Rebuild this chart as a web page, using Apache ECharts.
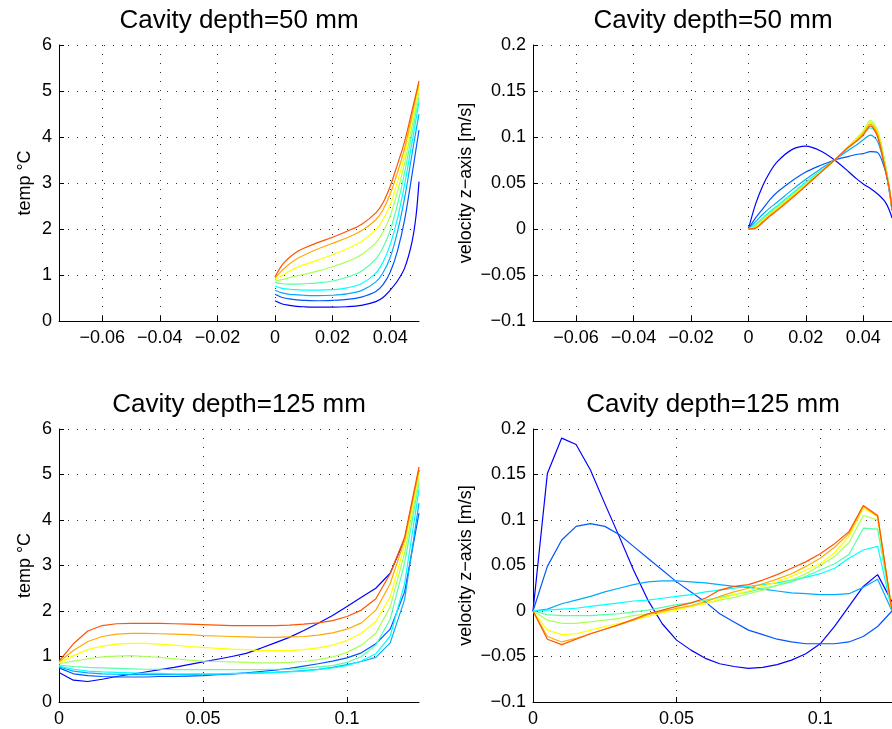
<!DOCTYPE html>
<html><head><meta charset="utf-8">
<script src="https://cdn.jsdelivr.net/npm/echarts@6/dist/echarts.min.js"></script>
<style>html,body{margin:0;padding:0;background:#fff}#c{width:892px;height:729px}</style>
</head><body><div id="c"></div>
<script>
// jet(9) colour order: blue -> red
const lineColors = ['#0000FF','#0055FF','#00AAFF','#00FFFF','#55FFAA','#AAFF55','#FFFF00','#FFAA00','#FF5500'];
const titles = ['Cavity depth=50 mm','Cavity depth=50 mm','Cavity depth=125 mm','Cavity depth=125 mm'];
const tempName = 'temp \u00B0C';
const velName = 'velocity z\u2212axis [m/s]';
const xTicks50 = [-0.06,-0.04,-0.02,0,0.02,0.04];
const xTicks125 = [0,0.05,0.1];

// x positions (m)
const x50 = [0,0.0025,0.005,0.0075,0.01,0.015,0.02,0.025,0.03,0.035,0.0375,0.04,0.0425,0.045,0.0475,0.049,0.05];
const x125 = [0,0.005,0.01,0.015,0.02,0.025,0.03,0.035,0.04,0.045,0.05,0.055,0.06,0.065,0.07,0.075,0.08,0.085,0.09,0.095,0.1,0.105,0.11,0.115,0.12,0.125];

// temperature, depth 50 mm (curves 1..9, blue -> red)
const temp50 = [
 [0.44,0.37,0.34,0.32,0.31,0.30,0.30,0.31,0.34,0.42,0.51,0.67,0.87,1.15,1.70,2.30,3.03],
 [0.58,0.51,0.48,0.46,0.45,0.44,0.45,0.47,0.52,0.64,0.79,1.06,1.52,2.20,3.15,3.75,4.15],
 [0.67,0.61,0.58,0.57,0.56,0.55,0.56,0.59,0.66,0.85,1.05,1.38,1.93,2.67,3.60,4.15,4.50],
 [0.76,0.71,0.69,0.68,0.67,0.67,0.68,0.72,0.81,1.04,1.28,1.66,2.22,2.97,3.85,4.40,4.75],
 [0.84,0.81,0.80,0.80,0.81,0.83,0.87,0.95,1.08,1.35,1.60,1.97,2.53,3.22,4.05,4.55,4.87],
 [0.87,0.90,0.94,0.98,1.01,1.09,1.18,1.29,1.44,1.70,1.93,2.28,2.80,3.43,4.22,4.68,4.97],
 [0.90,0.99,1.08,1.16,1.22,1.33,1.44,1.57,1.73,1.98,2.20,2.53,3.02,3.60,4.35,4.80,5.07],
 [0.93,1.10,1.24,1.35,1.43,1.57,1.69,1.81,1.96,2.20,2.42,2.76,3.22,3.75,4.45,4.90,5.15],
 [0.96,1.22,1.38,1.50,1.58,1.71,1.82,1.95,2.10,2.35,2.57,2.93,3.40,3.90,4.55,4.95,5.22]
];
// velocity, depth 50 mm
const vel50 = [
 [0,0.027,0.047,0.062,0.073,0.086,0.090,0.085,0.075,0.062,0.055,0.049,0.044,0.038,0.030,0.021,0.012],
 [0,0.012,0.022,0.032,0.040,0.052,0.062,0.069,0.075,0.079,0.081,0.082,0.084,0.083,0.065,0.042,0.020],
 [0,0.008,0.016,0.023,0.029,0.042,0.054,0.065,0.075,0.086,0.091,0.097,0.102,0.095,0.068,0.044,0.021],
 [0,0.005,0.012,0.019,0.025,0.038,0.051,0.063,0.075,0.089,0.096,0.104,0.110,0.102,0.072,0.046,0.022],
 [0,0.004,0.011,0.018,0.024,0.037,0.050,0.062,0.075,0.090,0.098,0.106,0.116,0.106,0.073,0.046,0.022],
 [0,0.003,0.010,0.017,0.023,0.036,0.049,0.062,0.075,0.090,0.098,0.107,0.118,0.107,0.073,0.046,0.022],
 [0,0.002,0.009,0.016,0.022,0.035,0.048,0.061,0.075,0.090,0.097,0.106,0.116,0.105,0.071,0.045,0.022],
 [0,0.001,0.008,0.015,0.021,0.034,0.047,0.061,0.075,0.090,0.096,0.104,0.114,0.103,0.069,0.045,0.022],
 [0,0.001,0.007,0.014,0.020,0.033,0.047,0.061,0.075,0.089,0.095,0.102,0.112,0.100,0.067,0.045,0.022]
];
// temperature, depth 125 mm
const temp125 = [
 [0.65,0.48,0.45,0.50,0.56,0.61,0.66,0.71,0.76,0.82,0.88,0.94,1.00,1.07,1.18,1.30,1.42,1.57,1.73,1.90,2.10,2.30,2.50,2.83,3.57,5.10],
 [0.75,0.62,0.58,0.56,0.55,0.55,0.55,0.56,0.56,0.57,0.58,0.60,0.62,0.64,0.67,0.70,0.74,0.79,0.84,0.90,0.97,1.08,1.28,1.60,2.42,4.15],
 [0.77,0.68,0.64,0.62,0.61,0.60,0.60,0.60,0.60,0.60,0.61,0.61,0.62,0.63,0.64,0.65,0.67,0.69,0.72,0.76,0.82,0.89,0.98,1.30,2.25,4.37],
 [0.79,0.72,0.68,0.66,0.65,0.64,0.63,0.63,0.62,0.62,0.62,0.62,0.63,0.63,0.64,0.65,0.66,0.68,0.71,0.75,0.80,0.90,1.06,1.45,2.60,4.67],
 [0.81,0.78,0.76,0.75,0.74,0.73,0.72,0.72,0.71,0.71,0.71,0.71,0.71,0.71,0.71,0.72,0.72,0.74,0.77,0.80,0.87,1.00,1.25,1.82,3.05,4.82],
 [0.84,0.90,0.95,0.99,1.01,1.02,1.00,0.98,0.95,0.92,0.90,0.89,0.88,0.87,0.86,0.86,0.87,0.89,0.93,0.99,1.09,1.25,1.51,2.09,3.27,4.92],
 [0.86,1.02,1.15,1.23,1.27,1.29,1.29,1.27,1.25,1.22,1.20,1.18,1.16,1.15,1.13,1.13,1.13,1.15,1.19,1.25,1.35,1.51,1.77,2.31,3.45,5.02],
 [0.88,1.13,1.33,1.44,1.49,1.51,1.51,1.50,1.49,1.48,1.46,1.45,1.44,1.43,1.42,1.42,1.43,1.44,1.47,1.52,1.60,1.74,2.02,2.60,3.56,5.10],
 [0.90,1.28,1.56,1.68,1.72,1.73,1.73,1.73,1.72,1.71,1.70,1.69,1.68,1.68,1.68,1.68,1.69,1.71,1.74,1.79,1.88,2.02,2.27,2.82,3.62,5.17]
];
// velocity, depth 125 mm
const vel125 = [
 [0,0.151,0.190,0.183,0.155,0.118,0.082,0.045,0.012,-0.014,-0.032,-0.043,-0.052,-0.058,-0.061,-0.063,-0.062,-0.059,-0.054,-0.047,-0.036,-0.017,0.005,0.027,0.040,0.010],
 [0,0.049,0.078,0.093,0.096,0.093,0.084,0.071,0.058,0.045,0.032,0.021,0.010,-0.003,-0.012,-0.021,-0.026,-0.031,-0.034,-0.036,-0.036,-0.036,-0.034,-0.028,-0.017,0],
 [0,0.002,0.008,0.012,0.016,0.021,0.025,0.029,0.032,0.033,0.033,0.032,0.031,0.029,0.027,0.026,0.024,0.022,0.020,0.019,0.018,0.018,0.019,0.026,0.035,0],
 [0,0.001,0.002,0.003,0.005,0.007,0.009,0.011,0.012,0.014,0.016,0.018,0.021,0.023,0.025,0.027,0.029,0.031,0.034,0.037,0.041,0.047,0.058,0.067,0.071,0],
 [0,-0.004,-0.005,-0.005,-0.005,-0.004,-0.003,-0.001,0.001,0.004,0.007,0.009,0.012,0.015,0.018,0.021,0.025,0.028,0.032,0.038,0.045,0.052,0.062,0.091,0.090,0],
 [0,-0.010,-0.0135,-0.0135,-0.012,-0.010,-0.008,-0.005,-0.003,0.000,0.002,0.005,0.008,0.012,0.015,0.019,0.023,0.028,0.034,0.041,0.050,0.060,0.075,0.105,0.100,0],
 [0,-0.021,-0.026,-0.025,-0.021,-0.017,-0.0135,-0.010,-0.006,-0.002,0.001,0.005,0.008,0.013,0.018,0.022,0.027,0.032,0.038,0.045,0.052,0.064,0.082,0.113,0.104,0],
 [0,-0.028,-0.034,-0.030,-0.025,-0.020,-0.015,-0.010,-0.004,-0.0005,0.003,0.006,0.010,0.016,0.021,0.025,0.030,0.035,0.041,0.049,0.058,0.070,0.085,0.115,0.104,0],
 [0,-0.031,-0.037,-0.031,-0.025,-0.020,-0.015,-0.009,-0.003,0.001,0.005,0.009,0.014,0.023,0.027,0.029,0.034,0.040,0.047,0.054,0.063,0.074,0.087,0.116,0.105,0]
];

const FONT = "'Liberation Sans', Arial, Helvetica, sans-serif";
const fmt = v => (v < 0 ? '\u2212' : '') + String(+Math.abs(v).toFixed(4));
const gridLine = {show:true, lineStyle:{color:'#333', type:[1,8], width:1}};

function xAxisCfg(gi, min, max, ticks){
  return {type:'value', gridIndex:gi, min:min, max:max,
    axisLine:{show:true, onZero:false, lineStyle:{color:'#000', width:1}},
    axisTick:{show:true, inside:true, length:5, customValues:ticks, lineStyle:{color:'#000'}},
    axisLabel:{customValues:ticks, formatter:fmt, color:'#000', fontSize:18, fontFamily:FONT, margin:8},
    splitLine:gridLine};
}
function yAxisCfg(gi, min, max, interval, name, gap){
  return {type:'value', gridIndex:gi, min:min, max:max, interval:interval,
    name:name, nameLocation:'middle', nameGap:gap,
    nameTextStyle:{color:'#000', fontSize:18, fontFamily:FONT},
    axisLine:{show:true, onZero:false, lineStyle:{color:'#000', width:1}},
    axisTick:{show:true, inside:true, length:5, lineStyle:{color:'#000'}},
    axisLabel:{formatter:fmt, color:'#000', fontSize:18, fontFamily:FONT, margin:7},
    splitLine:gridLine};
}
function mkSeries(gi, xs, ys, smooth){
  return ys.map((arr, k) => ({type:'line', xAxisIndex:gi, yAxisIndex:gi,
    data: arr.map((v, i) => [xs[i], v]), showSymbol:false, symbol:'none',
    smooth:smooth, lineStyle:{color:lineColors[k], width:1.2}, color:lineColors[k],
    animation:false, silent:true}));
}

const grids = [
  {left:59, top:45, width:360, height:276},
  {left:533, top:45, width:360, height:276},
  {left:59, top:429, width:360, height:273},
  {left:533, top:429, width:360, height:273}
];
const centers = [239, 713, 239, 713];
const titleTops = [8, 8, 392, 392];

const chart = echarts.init(document.getElementById('c'), null, {renderer:'canvas'});
chart.setOption({
  backgroundColor:'#fff',
  animation:false,
  title: titles.map((t, i) => ({text:t, left:centers[i], top:titleTops[i], textAlign:'center', padding:0,
    textStyle:{color:'#000', fontSize:26, fontWeight:'normal', fontFamily:FONT}})),
  grid: grids,
  xAxis: [
    xAxisCfg(0, -0.075, 0.05, xTicks50),
    xAxisCfg(1, -0.075, 0.05, xTicks50),
    xAxisCfg(2, 0, 0.125, xTicks125),
    xAxisCfg(3, 0, 0.125, xTicks125)
  ],
  yAxis: [
    yAxisCfg(0, 0, 6, 1, tempName, 25),
    yAxisCfg(1, -0.1, 0.2, 0.05, velName, 58),
    yAxisCfg(2, 0, 6, 1, tempName, 25),
    yAxisCfg(3, -0.1, 0.2, 0.05, velName, 58)
  ],
  series: [].concat(
    mkSeries(0, x50, temp50, 0.3),
    mkSeries(1, x50, vel50, 0.3),
    mkSeries(2, x125, temp125, false),
    mkSeries(3, x125, vel125, false)
  )
});
</script></body></html>
